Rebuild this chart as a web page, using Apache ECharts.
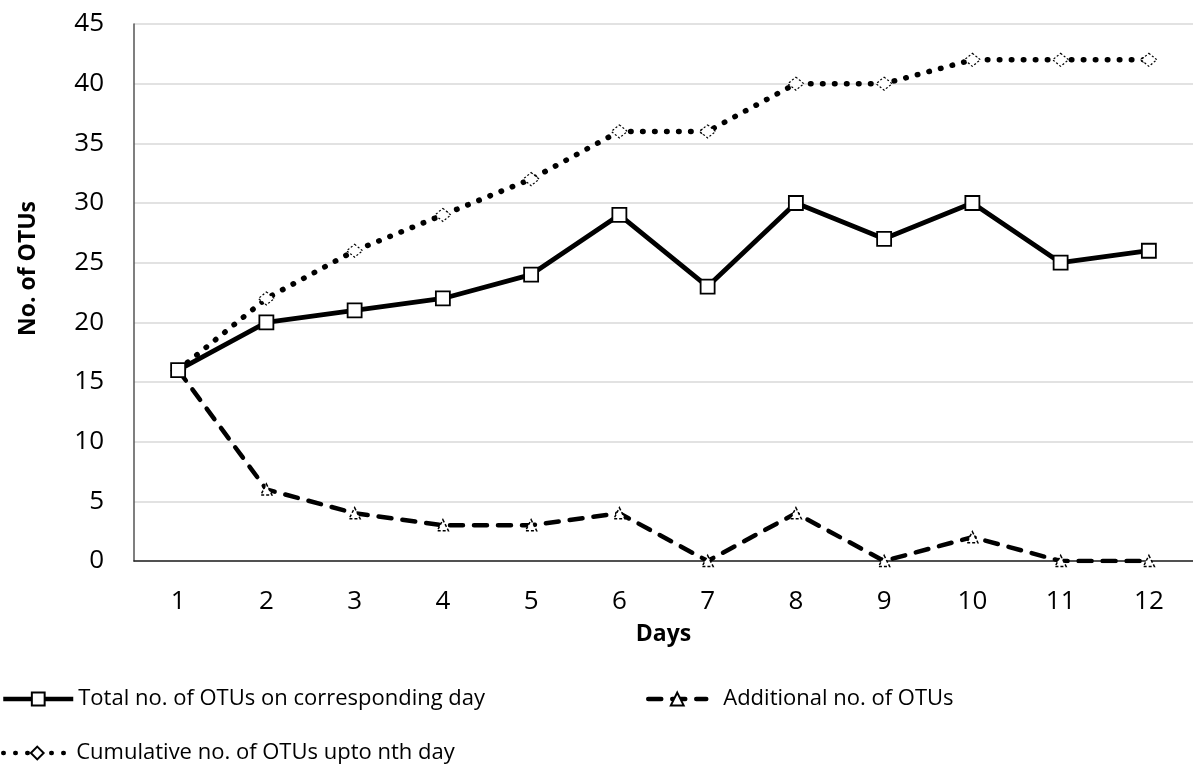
<!DOCTYPE html>
<html>
<head>
<meta charset="utf-8">
<script src="https://cdn.jsdelivr.net/npm/echarts@6/dist/echarts.min.js"></script>
<style>html,body{margin:0;padding:0;background:#fff}#c{width:1193px;height:778px}</style>
</head>
<body>
<div id="c"></div>
<script>
var days = ['1','2','3','4','5','6','7','8','9','10','11','12'];
var totalOTUs = [16,20,21,22,24,29,23,30,27,30,25,26];
var additionalOTUs = [16,6,4,3,3,4,0,4,0,2,0,0];
var cumulativeOTUs = [16,22,26,29,32,36,36,40,40,42,42,42];
var nameTotal = 'Total no. of OTUs on corresponding day';
var nameAdd = 'Additional no. of OTUs';
var nameCum = 'Cumulative no. of OTUs upto nth day';

var FONT = '"Open Sans", "Noto Sans", sans-serif';
var chart = echarts.init(document.getElementById('c'));
var legendBase = {
  orient: 'horizontal', itemHeight: 16,
  textStyle: {fontFamily: FONT, fontSize: 22, color: '#000'},
  lineStyle: {width: 4.5},
  selectedMode: false
};
chart.setOption({
  animation: false,
  backgroundColor: '#fff',
  grid: {left: 134, top: 24, width: 1067, height: 537, containLabel: false},
  xAxis: {
    type: 'category', data: days, boundaryGap: true,
    name: 'Days', nameLocation: 'middle', nameGap: 62,
    nameTextStyle: {fontFamily: FONT, fontWeight: 'bold', fontSize: 23, color: '#000'},
    axisLine: {lineStyle: {color: '#222', width: 1.5}},
    axisTick: {show: false},
    axisLabel: {fontFamily: FONT, fontSize: 26, color: '#000', margin: 28}
  },
  yAxis: {
    type: 'value', min: 0, max: 45, interval: 5,
    name: 'No. of OTUs', nameLocation: 'middle', nameGap: 94,
    nameTextStyle: {fontFamily: FONT, fontWeight: 'bold', fontSize: 23, color: '#000', padding: [0, 0, 0, 48]},
    axisLine: {show: true, lineStyle: {color: '#555', width: 1.5}},
    axisTick: {show: false},
    axisLabel: {fontFamily: FONT, fontSize: 26, color: '#000', margin: 30},
    splitLine: {lineStyle: {color: '#d9d9d9', width: 1.5}}
  },
  legend: [
    Object.assign({}, legendBase, {left: -4, top: 683, itemWidth: 70, data: [nameTotal]}),
    Object.assign({}, legendBase, {left: 641, top: 683, itemWidth: 58, data: [nameAdd], textStyle: {fontFamily: FONT, fontSize: 22, color: '#000', padding: [0,0,0,12]}}),
    Object.assign({}, legendBase, {left: -4, top: 737, itemWidth: 68, data: [nameCum]})
  ],
  series: [
    {
      name: nameCum, type: 'line', data: cumulativeOTUs, z: 2,
      symbol: 'diamond', symbolSize: [16, 13],
      lineStyle: {color: '#000', width: 5.5, type: [0.5, 11.5], cap: 'round'},
      itemStyle: {color: '#fff', borderColor: '#000', borderWidth: 1.2, borderType: [2, 2]}
    },
    {
      name: nameAdd, type: 'line', data: additionalOTUs, z: 3,
      symbol: 'triangle', symbolSize: 11,
      lineStyle: {color: '#000', width: 4.5, type: [13, 11], cap: 'round'},
      itemStyle: {color: '#fff', borderColor: '#000', borderWidth: 1.5, borderType: [3, 2]}
    },
    {
      name: nameTotal, type: 'line', data: totalOTUs, z: 4,
      symbol: 'rect', symbolSize: 14,
      lineStyle: {color: '#000', width: 4.8},
      itemStyle: {color: '#fff', borderColor: '#000', borderWidth: 1.8}
    }
  ]
});
</script>
</body>
</html>
